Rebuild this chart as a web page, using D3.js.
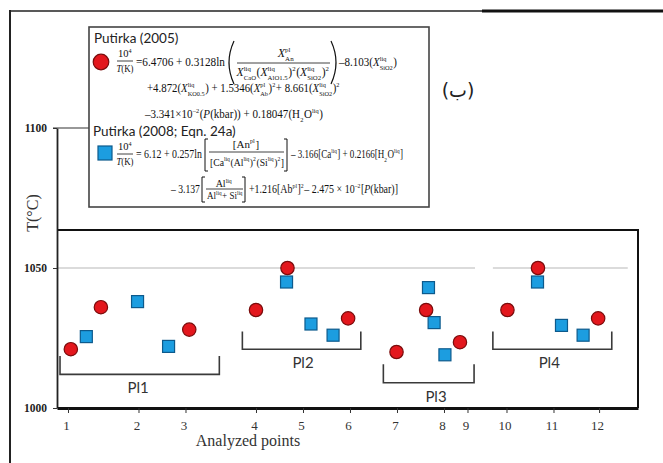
<!DOCTYPE html>
<html>
<head>
<meta charset="utf-8">
<script src="https://cdn.jsdelivr.net/npm/d3@7/dist/d3.min.js"></script>
<style>
  body { margin: 0; background: #fff; }
  svg { display: block; }
</style>
</head>
<body>
<div id="chart"></div>
<script>
// analysed points along the x axis (tick labels and where they sit)
const pointLabels = ['1', '2', '3', '4', '5', '6', '7', '8', '9', '10', '11', '12'];
const pointTicks = [1, 2.5, 3.5, 5, 6, 7, 8, 9, 9.5, 10.33, 11.33, 12.3];
const tempTicks = [1000, 1050, 1100];

// Putirka (2005), red circles
const putirka2005X = [1.06, 1.70, 3.58, 5.0, 5.67, 6.96, 7.99, 8.62, 9.34, 10.35, 11.0, 12.28];
const putirka2005T = [1021, 1036, 1028, 1035, 1050, 1032, 1020, 1035, 1023.5, 1035, 1050, 1032];

// Putirka (2008; Eqn. 24a), blue squares
const putirka2008X = [1.39, 2.48, 3.14, 5.65, 6.17, 6.64, 8.67, 8.79, 9.02, 10.99, 11.5, 11.96];
const putirka2008T = [1025.5, 1038, 1022, 1045, 1030, 1026, 1043, 1030.5, 1019, 1045, 1029.5, 1026];

// plagioclase groups (brackets)
const groupNames = ['Pl1', 'Pl2', 'Pl3', 'Pl4'];
const groupFrom = [0.83, 4.71, 7.71, 10.04];
const groupTo = [4.22, 7.23, 9.64, 12.57];
const groupLabelAt = [2.49, 6.0, 8.83, 11.24];
const groupTop = [1018.6, 1027.3, 1015.6, 1027.3];
const groupBase = [1012, 1021, 1009, 1021];

// reference line at 1050, broken in two
const refFrom = [0.766, 10.04];
const refTo = [9.66, 12.91];

const width = 663, height = 463;
const red = '#e3171d', redEdge = '#7a0c0c';
const blue = '#1c9de0', blueEdge = '#0d5a8c';

const svg = d3.select('#chart').append('svg')
  .attr('width', width)
  .attr('height', height);

const x = d3.scaleLinear().domain([0.766, 13.128]).range([57, 638]);
const y = d3.scaleLinear().domain([1000, 1100]).range([408, 128]);

// outer frame of the figure
svg.append('line').attr('x1', 10).attr('x2', 483).attr('y1', 11).attr('y2', 11)
  .attr('stroke', '#222').attr('stroke-width', 1.5);
svg.append('line').attr('x1', 482).attr('x2', 663).attr('y1', 11).attr('y2', 11)
  .attr('stroke', '#111').attr('stroke-width', 3);
svg.append('line').attr('x1', 10).attr('x2', 10).attr('y1', 10).attr('y2', 463)
  .attr('stroke', '#222').attr('stroke-width', 2);

// plot box
svg.append('path')
  .attr('d', 'M57,230 H638 V408')
  .attr('fill', 'none').attr('stroke', '#111').attr('stroke-width', 2);

// reference line
svg.selectAll('.ref')
  .data(refFrom)
  .enter().append('line')
  .attr('class', 'ref')
  .attr('x1', d => x(d))
  .attr('x2', (d, i) => x(refTo[i]))
  .attr('y1', y(1050)).attr('y2', y(1050))
  .attr('stroke', '#cfcfcf').attr('stroke-width', 1.5);

// y axis
const yAxis = svg.append('g')
  .attr('transform', 'translate(57,0)')
  .call(d3.axisLeft(y).tickValues(tempTicks).tickSize(4).tickSizeOuter(0).tickFormat(d3.format('d')));
yAxis.select('.domain').attr('stroke', '#222').attr('stroke-width', 1.8);
yAxis.selectAll('.tick line').attr('stroke', '#333');
yAxis.selectAll('.tick text')
  .attr('font-family', 'Liberation Serif, serif')
  .attr('font-weight', 'bold')
  .attr('font-size', 11.5)
  .attr('fill', '#222')
  .attr('dx', -3);

// 1100 tick runs into the equation box
svg.append('line')
  .attr('x1', 53).attr('x2', 89)
  .attr('y1', y(1100)).attr('y2', y(1100))
  .attr('stroke', '#333').attr('stroke-width', 1.2);

// x axis
const xAxis = svg.append('g')
  .attr('transform', 'translate(0,408)')
  .call(d3.axisBottom(x).tickValues(pointTicks).tickSize(5).tickSizeOuter(0)
    .tickFormat((d, i) => pointLabels[i]));
xAxis.select('.domain').attr('stroke', '#111').attr('stroke-width', 3);
xAxis.selectAll('.tick line').attr('stroke', '#333');
xAxis.selectAll('.tick text')
  .attr('font-family', 'Liberation Serif, serif')
  .attr('font-size', 13)
  .attr('fill', '#333')
  .attr('dx', -2)
  .attr('dy', '1.05em');

svg.append('text')
  .attr('x', 248).attr('y', 446)
  .attr('text-anchor', 'middle')
  .attr('font-family', 'Liberation Serif, serif')
  .attr('font-size', 16)
  .attr('fill', '#333')
  .text('Analyzed points');

svg.append('text')
  .attr('transform', 'translate(38,213) rotate(-90)')
  .attr('text-anchor', 'middle')
  .attr('font-family', 'Liberation Serif, serif')
  .attr('font-size', 16)
  .attr('fill', '#333')
  .text('T(°C)');

// group brackets
const groups = svg.selectAll('.group')
  .data(groupNames)
  .enter().append('g')
  .attr('class', 'group');
groups.append('path')
  .attr('d', (d, i) => 'M' + x(groupFrom[i]) + ',' + y(groupTop[i]) +
    ' V' + y(groupBase[i]) + ' H' + x(groupTo[i]) + ' V' + y(groupTop[i]))
  .attr('fill', 'none')
  .attr('stroke', '#3a3a3a')
  .attr('stroke-width', 1.6);
groups.append('text')
  .attr('x', (d, i) => x(groupLabelAt[i]))
  .attr('y', (d, i) => y(groupBase[i]) + 19)
  .attr('text-anchor', 'middle')
  .attr('font-family', 'Lato, sans-serif')
  .attr('font-size', 15)
  .attr('fill', '#333')
  .text(d => d);

// markers
function circle (sel, r) {
  sel.append('circle').attr('r', r)
    .attr('fill', red).attr('stroke', redEdge).attr('stroke-width', 1.2);
}
function square (sel, s) {
  sel.append('rect').attr('x', -s / 2).attr('y', -s / 2).attr('width', s).attr('height', s)
    .attr('fill', blue).attr('stroke', blueEdge).attr('stroke-width', 1.2);
}

svg.selectAll('.p2008')
  .data(putirka2008T)
  .enter().append('g')
  .attr('class', 'p2008')
  .attr('transform', (d, i) => 'translate(' + x(putirka2008X[i]) + ',' + y(d) + ')')
  .call(square, 12);

svg.selectAll('.p2005')
  .data(putirka2005T)
  .enter().append('g')
  .attr('class', 'p2005')
  .attr('transform', (d, i) => 'translate(' + x(putirka2005X[i]) + ',' + y(d) + ')')
  .call(circle, 6.7);

// equation box
const box = svg.append('g');
box.append('rect')
  .attr('x', 89).attr('y', 27).attr('width', 340).attr('height', 180)
  .attr('fill', '#fff').attr('stroke', '#444').attr('stroke-width', 1.6);

box.append('text').attr('x', 94).attr('y', 43)
  .attr('font-family', 'Lato, sans-serif').attr('font-size', 13.5).attr('fill', '#222')
  .text('Putirka (2005)');
box.append('text').attr('x', 93).attr('y', 136)
  .attr('font-family', 'Lato, sans-serif').attr('font-size', 13.5).attr('fill', '#222')
  .text('Putirka (2008; Eqn. 24a)');

box.append('g').attr('transform', 'translate(101,62)').call(circle, 7.8);
box.append('g').attr('transform', 'translate(105,153)').call(square, 14);

// a very small TeX-ish typesetter: _{..} subscript, ^{..} superscript
function parseTex (s) {
  const out = [];
  let i = 0, buf = '';
  while (i < s.length) {
    const c = s[i];
    if ((c === '_' || c === '^') && s[i + 1] === '{') {
      const j = s.indexOf('}', i + 2);
      const v = s.slice(i + 2, j);
      if (buf) { out.push({t: buf}); buf = ''; }
      let last = out[out.length - 1];
      if (!last || last.t !== undefined) { last = {}; out.push(last); }
      last[c === '_' ? 'sub' : 'sup'] = v;
      i = j + 1;
    } else {
      buf += c;
      i++;
    }
  }
  if (buf) out.push({t: buf});
  return out;
}

function mathRow (parent, s, fs) {
  const g = parent.append('g')
    .attr('font-family', 'Liberation Serif, serif')
    .attr('fill', '#111');
  let cx = 0;
  parseTex(s).forEach(tok => {
    if (tok.t !== undefined) {
      tok.t.split(/([XTP])/).filter(p => p).forEach(p => {
        const el = g.append('text').attr('x', cx).attr('y', 0).attr('font-size', fs).text(p);
        if (/^[XTP]$/.test(p)) el.attr('font-style', 'italic');
        cx += el.node().getComputedTextLength();
      });
    } else {
      let w = 0;
      if (tok.sup) {
        const e = g.append('text').attr('x', cx).attr('y', -fs * 0.42).attr('font-size', fs * 0.58).text(tok.sup);
        w = Math.max(w, e.node().getComputedTextLength());
      }
      if (tok.sub) {
        const e = g.append('text').attr('x', cx).attr('y', fs * 0.3).attr('font-size', fs * 0.58).text(tok.sub);
        w = Math.max(w, e.node().getComputedTextLength());
      }
      cx += w + 0.6;
    }
  });
  return {g: g, w: cx};
}

// place a row starting at x0 and squeeze it to width w
function row (s, x0, base, fs, w) {
  const r = mathRow(box, s, fs);
  const k = w ? w / r.w : 1;
  r.g.attr('transform', 'translate(' + x0 + ',' + base + ') scale(' + k + ',1)');
}
// centred row, optionally squeezed
function rowC (s, cx, base, fs, w) {
  const r = mathRow(box, s, fs);
  const k = w ? w / r.w : 1;
  r.g.attr('transform', 'translate(' + (cx - r.w * k / 2) + ',' + base + ') scale(' + k + ',1)');
}
function bar (x1, x2, yy) {
  box.append('line').attr('x1', x1).attr('x2', x2).attr('y1', yy).attr('y2', yy)
    .attr('stroke', '#111').attr('stroke-width', 0.8);
}
function paren (x0, y0, y1, dir) {
  const m = (y0 + y1) / 2;
  box.append('path')
    .attr('d', 'M' + x0 + ',' + y0 + ' Q' + (x0 - dir * 10) + ',' + m + ' ' + x0 + ',' + y1)
    .attr('fill', 'none').attr('stroke', '#111').attr('stroke-width', 1.2);
}
function bracket (x0, y0, y1, dir) {
  box.append('path')
    .attr('d', 'M' + (x0 + dir * 3) + ',' + y0 + ' H' + x0 + ' V' + y1 + ' H' + (x0 + dir * 3))
    .attr('fill', 'none').attr('stroke', '#111').attr('stroke-width', 1);
}

// Putirka (2005)
rowC('10^{4}', 125, 57, 10.5);
bar(117, 133, 61);
rowC('T(K)', 125, 72, 10, 17);
row('=6.4706 + 0.3128ln', 136, 66, 12, 89);
paren(234, 41, 84, 1);
rowC('X_{An}^{pl}', 286, 57, 12);
bar(237, 330, 63);
rowC('X_{CaO}^{liq}(X_{AlO1.5}^{liq})^{2}(X_{SiO2}^{liq})^{2}', 283, 76, 12, 93);
paren(331, 41, 84, -1);
row('–8.103(X_{SiO2}^{liq})', 339, 66, 12, 58);
row('+4.872(X_{KO0.5}^{liq}) + 1.5346(X_{Ab}^{pl})^{2} + 8.661(X_{SiO2}^{liq})^{2}', 147, 92, 12, 193);
row('–3.341×10^{–2}(P(kbar)) + 0.18047(H_{2}O^{liq})', 145, 118, 12, 178);

// Putirka (2008; Eqn. 24a)
rowC('10^{4}', 125, 150, 10.5);
bar(117, 133, 154);
rowC('T(K)', 125, 165, 10, 17);
row('= 6.12 + 0.257ln', 136, 158, 12, 66);
bracket(205, 139, 171, 1);
rowC('[An^{pl}]', 246, 148, 11);
bar(209, 284, 152);
rowC('[Ca^{liq}(Al^{liq})^{2}(Si^{liq})^{2}]', 247, 166, 11, 74);
bracket(287, 139, 171, -1);
row('– 3.166[Ca^{liq}] + 0.2166[H_{2}O^{liq}]', 291, 158, 12, 112);
row('– 3.137', 171, 193, 12, 29);
bracket(202, 177, 202, 1);
rowC('Al^{liq}', 224, 187, 10);
bar(206, 243, 189);
rowC('Al^{liq} + Si^{liq}', 225, 199, 10, 36);
bracket(245, 177, 202, -1);
row('+1.216[Ab^{pl}]^{2} – 2.475 × 10^{–2}[P(kbar)]', 249, 193, 12, 149);

// panel letter
svg.append('text')
  .attr('x', 458).attr('y', 97)
  .attr('text-anchor', 'middle')
  .attr('font-family', 'DejaVu Sans, sans-serif')
  .attr('font-size', 19)
  .attr('fill', '#222')
  .text('(ب)');
</script>
</body>
</html>
